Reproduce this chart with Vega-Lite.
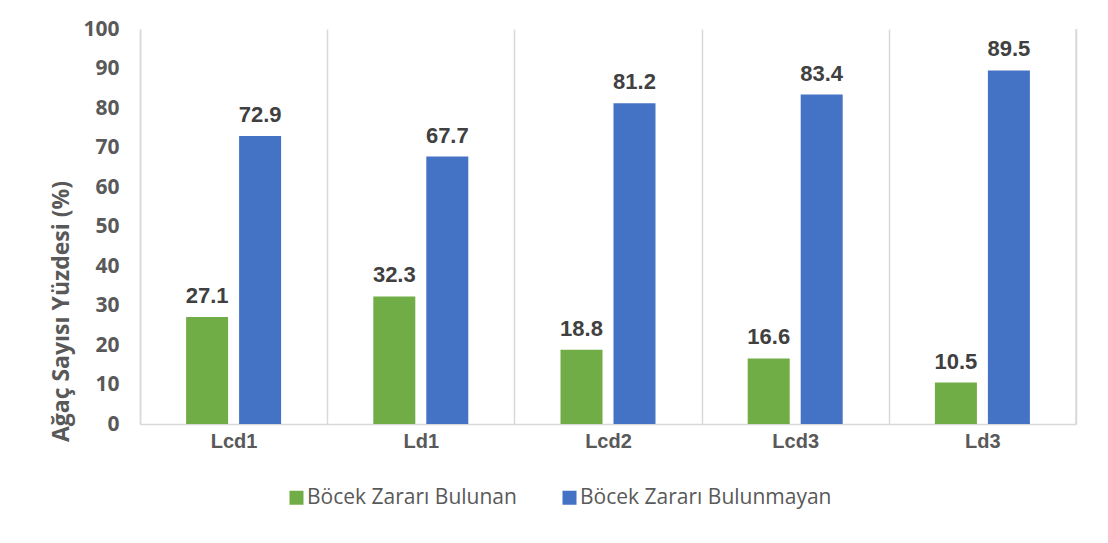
{
  "$schema": "https://vega.github.io/schema/vega-lite/v6.json",
  "width": 936,
  "height": 395,
  "autosize": {"type": "none"},
  "padding": {"left": 140, "top": 29, "right": 32, "bottom": 119},
  "background": "white",
  "config": {"view": {"stroke": null}, "axisY": {"labelOverlap": false}},
  "data": {"values": [
    {"grup": "Lcd1", "seri": "Böcek Zararı Bulunan", "deger": 27.1},
    {"grup": "Lcd1", "seri": "Böcek Zararı Bulunmayan", "deger": 72.9},
    {"grup": "Ld1", "seri": "Böcek Zararı Bulunan", "deger": 32.3},
    {"grup": "Ld1", "seri": "Böcek Zararı Bulunmayan", "deger": 67.7},
    {"grup": "Lcd2", "seri": "Böcek Zararı Bulunan", "deger": 18.8},
    {"grup": "Lcd2", "seri": "Böcek Zararı Bulunmayan", "deger": 81.2},
    {"grup": "Lcd3", "seri": "Böcek Zararı Bulunan", "deger": 16.6},
    {"grup": "Lcd3", "seri": "Böcek Zararı Bulunmayan", "deger": 83.4},
    {"grup": "Ld3", "seri": "Böcek Zararı Bulunan", "deger": 10.5},
    {"grup": "Ld3", "seri": "Böcek Zararı Bulunmayan", "deger": 89.5}
  ]},
  "encoding": {
    "x": {
      "field": "grup", "type": "nominal",
      "scale": {"domain": ["Lcd1", "Ld1", "Lcd2", "Lcd3", "Ld3"], "paddingInner": 0, "paddingOuter": 0},
      "axis": {
        "title": null, "labelAngle": 0, "tickBand": "extent", "grid": true,
        "gridColor": "#d9d9d9", "gridWidth": 1.5, "ticks": false,
        "domainColor": "#d9d9d9", "domainWidth": 1.5,
        "labelFont": "Liberation Sans", "labelFontWeight": "bold", "labelFontSize": 20,
        "labelColor": "#595959", "labelPadding": 7
      }
    },
    "y": {
      "field": "deger", "type": "quantitative",
      "scale": {"domain": [0, 100], "nice": false},
      "axis": {
        "title": "Ağaç Sayısı Yüzdesi (%)", "values": [0,10,20,30,40,50,60,70,80,90,100],
        "labelOverlap": false,
        "grid": false, "ticks": false, "domainColor": "#d9d9d9", "domainWidth": 1.5,
        "labelFont": "Open Sans", "labelFontWeight": "bold", "labelFontSize": 21,
        "labelColor": "#595959", "labelPadding": 21,
        "titleFont": "Open Sans", "titleFontWeight": "bold", "titleFontSize": 23,
        "titleColor": "#595959", "titleAngle": -90, "titleX": -79, "titleY": 282,
        "titleAlign": "center", "titleBaseline": "middle"
      }
    }
  },
  "layer": [
    {
      "mark": {"type": "bar"},
      "encoding": {
        "xOffset": {
          "field": "seri", "type": "nominal",
          "scale": {"domain": ["Böcek Zararı Bulunan", "Böcek Zararı Bulunmayan"], "paddingInner": 0.2075, "paddingOuter": 0.87}
        },
        "color": {
          "field": "seri", "type": "nominal",
          "scale": {"domain": ["Böcek Zararı Bulunan", "Böcek Zararı Bulunmayan"], "range": ["#70ad47", "#4472c4"]},
          "legend": {
            "title": null, "orient": "none", "direction": "horizontal",
            "legendX": 146, "legendY": 458,
            "symbolType": "square", "symbolSize": 196, "symbolStrokeWidth": 0,
            "labelFont": "Open Sans", "labelFontSize": 21, "labelColor": "#595959",
            "labelLimit": 400, "columnPadding": 42, "labelOffset": 0
          }
        }
      }
    },
    {
      "mark": {"type": "text", "baseline": "alphabetic", "dy": -14, "font": "Liberation Sans", "fontWeight": "bold", "fontSize": 22, "color": "#404040"},
      "encoding": {
        "xOffset": {"field": "seri", "type": "nominal"},
        "text": {"field": "deger", "type": "quantitative", "format": ".1f"}
      }
    },
    {
      "data": {"values": [{"grup": "Ld3", "deger": 0, "ust": 100}]},
      "mark": {"type": "rule", "color": "#d9d9d9", "strokeWidth": 1.5},
      "encoding": {
        "x": {"field": "grup", "type": "nominal", "bandPosition": 1},
        "y2": {"field": "ust"}
      }
    }
  ]
}
